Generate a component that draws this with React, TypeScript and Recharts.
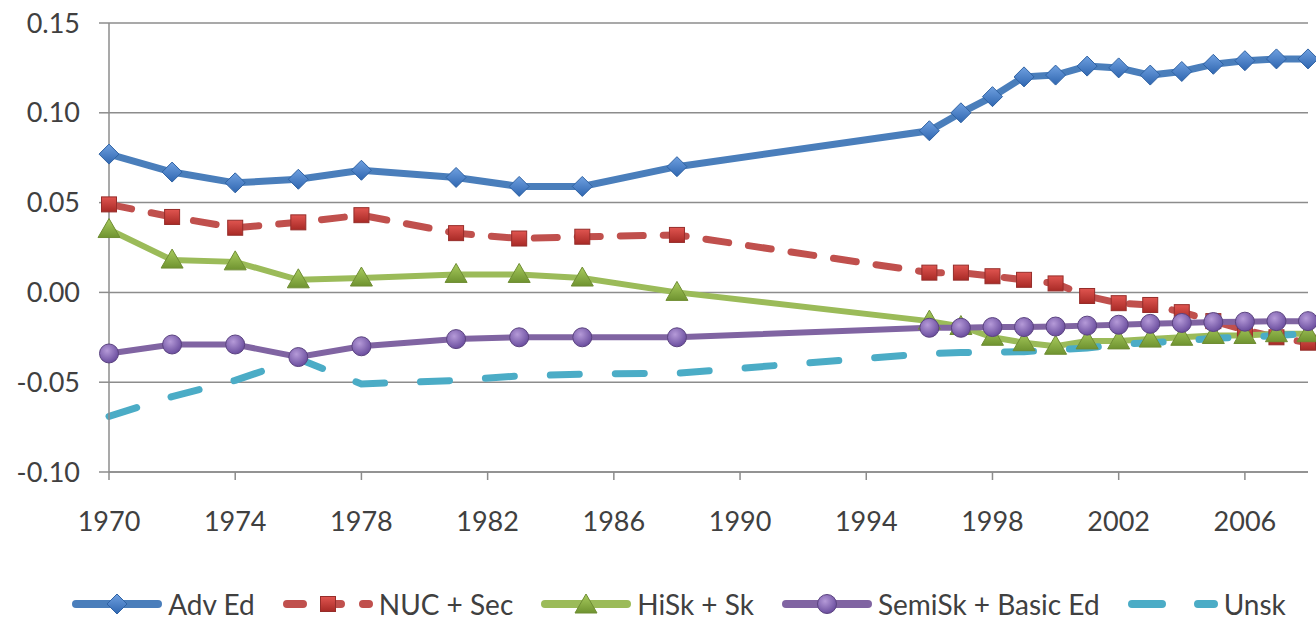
import { LineChart, Line, XAxis, YAxis, CartesianGrid } from 'recharts'

const years = [1970, 1972, 1974, 1976, 1978, 1981, 1983, 1985, 1988, 1996, 1997, 1998, 1999, 2000, 2001, 2002, 2003, 2004, 2005, 2006, 2007, 2008]
const advEd = [0.077, 0.067, 0.061, 0.063, 0.068, 0.064, 0.059, 0.059, 0.07, 0.09, 0.1, 0.109, 0.12, 0.121, 0.126, 0.125, 0.121, 0.123, 0.127, 0.129, 0.13, 0.13]
const nucSec = [0.049, 0.042, 0.036, 0.039, 0.043, 0.033, 0.03, 0.031, 0.032, 0.011, 0.011, 0.009, 0.007, 0.005, -0.002, -0.006, -0.007, -0.011, -0.016, -0.021, -0.025, -0.028]
const hiSk = [0.035, 0.018, 0.017, 0.007, 0.008, 0.01, 0.01, 0.008, 0.0, -0.016, -0.019, -0.025, -0.028, -0.03, -0.027, -0.027, -0.026, -0.025, -0.024, -0.024, -0.023, -0.023]
const semiSk = [-0.034, -0.029, -0.029, -0.036, -0.03, -0.026, -0.025, -0.025, -0.025, -0.0197, -0.0197, -0.0193, -0.0193, -0.019, -0.0185, -0.018, -0.0175, -0.017, -0.0165, -0.0163, -0.016, -0.016]
const unsk = [-0.069, -0.058, -0.049, -0.037, -0.051, -0.049, -0.0465, -0.0455, -0.045, -0.034, -0.0335, -0.0333, -0.033, -0.032, -0.031, -0.029, -0.028, -0.027, -0.0255, -0.025, -0.024, -0.023]

const xTicks = [1970, 1974, 1978, 1982, 1986, 1990, 1994, 1998, 2002, 2006]
const yTicks = [-0.1, -0.05, 0, 0.05, 0.1, 0.15]

const data = years.map((year, i) => ({
  year,
  advEd: advEd[i],
  nucSec: nucSec[i],
  hiSk: hiSk[i],
  semiSk: semiSk[i],
  unsk: unsk[i],
}))

const FONT = 'Lato, "Open Sans", sans-serif'
const TEXT = '#404040'
const GRID = '#8c8c8c'

const diamondPath = (cx: number, cy: number, r: number) =>
  `M${cx},${cy - r} L${cx + r},${cy} L${cx},${cy + r} L${cx - r},${cy} Z`

const trianglePath = (cx: number, cy: number) =>
  `M${cx},${cy - 11} L${cx + 11},${cy + 8} L${cx - 11},${cy + 8} Z`

const DiamondDot = (p: any) =>
  p.cx == null ? null : (
    <path key={p.index} d={diamondPath(p.cx, p.cy, 10)} fill="url(#gBlue)" stroke="#2f62a3" strokeWidth={1} />
  )

const SquareDot = (p: any) =>
  p.cx == null ? null : (
    <rect key={p.index} x={p.cx - 7.5} y={p.cy - 7.5} width={15} height={15} fill="url(#gRed)" stroke="#962d2a" strokeWidth={1} />
  )

const TriangleDot = (p: any) =>
  p.cx == null ? null : (
    <path key={p.index} d={trianglePath(p.cx, p.cy)} fill="url(#gGreen)" stroke="#6f8d33" strokeWidth={1} />
  )

const CircleDot = (p: any) =>
  p.cx == null ? null : (
    <circle key={p.index} cx={p.cx} cy={p.cy} r={9.5} fill="url(#gPurple)" stroke="#5b4380" strokeWidth={1} />
  )

function LegendIcon({ color, dash, marker }: { color: string; dash?: string; marker?: string }) {
  return (
    <svg width={90} height={24} style={{ display: 'block' }}>
      <line x1={4} y1={12} x2={86} y2={12} stroke={color} strokeWidth={8} strokeLinecap="round" strokeDasharray={dash} />
      {marker === 'diamond' && <path d={diamondPath(45, 12, 10)} fill="url(#gBlue)" stroke="#2f62a3" />}
      {marker === 'square' && <rect x={37.5} y={4.5} width={15} height={15} fill="url(#gRed)" stroke="#962d2a" />}
      {marker === 'triangle' && <path d={trianglePath(45, 13)} fill="url(#gGreen)" stroke="#6f8d33" />}
      {marker === 'circle' && <circle cx={45} cy={12} r={9.5} fill="url(#gPurple)" stroke="#5b4380" />}
    </svg>
  )
}

const legendItems = [
  { label: 'Adv Ed', color: '#4a7ebb', marker: 'diamond' },
  { label: 'NUC + Sec', color: '#c0504d', marker: 'square', dash: '16 22' },
  { label: 'HiSk + Sk', color: '#9bbb59', marker: 'triangle' },
  { label: 'SemiSk + Basic Ed', color: '#8064a2', marker: 'circle' },
  { label: 'Unsk', color: '#4bacc6', dash: '30 36' },
]

export default function App() {
  return (
    <div style={{ position: 'absolute', left: 0, top: 0, width: 1316, height: 623, background: '#fff' }}>
      <svg width={0} height={0} style={{ position: 'absolute' }}>
        <defs>
          <linearGradient id="gBlue" x1="0" y1="0" x2="0" y2="1">
            <stop offset="0%" stopColor="#6fa0e0" />
            <stop offset="100%" stopColor="#2f66b0" />
          </linearGradient>
          <linearGradient id="gRed" x1="0" y1="0" x2="0" y2="1">
            <stop offset="0%" stopColor="#e05550" />
            <stop offset="100%" stopColor="#a82a26" />
          </linearGradient>
          <linearGradient id="gGreen" x1="0" y1="0" x2="0" y2="1">
            <stop offset="0%" stopColor="#a9cc5e" />
            <stop offset="100%" stopColor="#6f9330" />
          </linearGradient>
          <radialGradient id="gPurple" cx="0.4" cy="0.35" r="0.7">
            <stop offset="0%" stopColor="#b59ad8" />
            <stop offset="100%" stopColor="#65489a" />
          </radialGradient>
        </defs>
      </svg>
      <LineChart width={1316} height={623} data={data} margin={{ top: 23, right: 8, bottom: 91, left: 0 }}>
        <CartesianGrid vertical={false} stroke={GRID} strokeWidth={1.5} />
        <XAxis
          dataKey="year"
          type="number"
          domain={[1970, 2008]}
          ticks={xTicks}
          interval={0}
          axisLine={{ stroke: GRID, strokeWidth: 1.5 }}
          tickLine={{ stroke: GRID, strokeWidth: 1.5 }}
          tickSize={8}
          tickMargin={32}
          height={60}
          tick={{ fill: TEXT, fontSize: 27, fontFamily: FONT }}
        />
        <YAxis
          type="number"
          domain={[-0.1, 0.15]}
          ticks={yTicks}
          interval={0}
          width={109}
          tickFormatter={(v: number) => v.toFixed(2)}
          axisLine={{ stroke: GRID, strokeWidth: 1.5 }}
          tickLine={{ stroke: GRID, strokeWidth: 1.5 }}
          tickSize={10}
          tickMargin={19}
          tick={{ fill: TEXT, fontSize: 27, fontFamily: FONT }}
        />
        <Line dataKey="advEd" stroke="#4a7ebb" strokeWidth={7} dot={DiamondDot} isAnimationActive={false} />
        <Line dataKey="nucSec" stroke="#c0504d" strokeWidth={7} strokeDasharray="23 20" strokeLinecap="round" dot={SquareDot} isAnimationActive={false} />
        <Line dataKey="hiSk" stroke="#9bbb59" strokeWidth={6} dot={TriangleDot} isAnimationActive={false} />
        <Line dataKey="semiSk" stroke="#8064a2" strokeWidth={6} dot={CircleDot} isAnimationActive={false} />
        <Line dataKey="unsk" stroke="#4bacc6" strokeWidth={7} strokeDasharray="29 36" strokeLinecap="round" dot={false} isAnimationActive={false} />
      </LineChart>
      <div
        style={{
          position: 'absolute',
          left: 0,
          top: 590,
          width: 1316,
          boxSizing: 'border-box',
          paddingLeft: 42,
          display: 'flex',
          justifyContent: 'center',
          alignItems: 'center',
          gap: 28,
          fontFamily: FONT,
          fontSize: 28,
          color: TEXT,
        }}
      >
        {legendItems.map((it) => (
          <div key={it.label} style={{ display: 'flex', alignItems: 'center', gap: 6 }}>
            <LegendIcon color={it.color} dash={it.dash} marker={it.marker} />
            <span style={{ lineHeight: '28px' }}>{it.label}</span>
          </div>
        ))}
      </div>
    </div>
  )
}
